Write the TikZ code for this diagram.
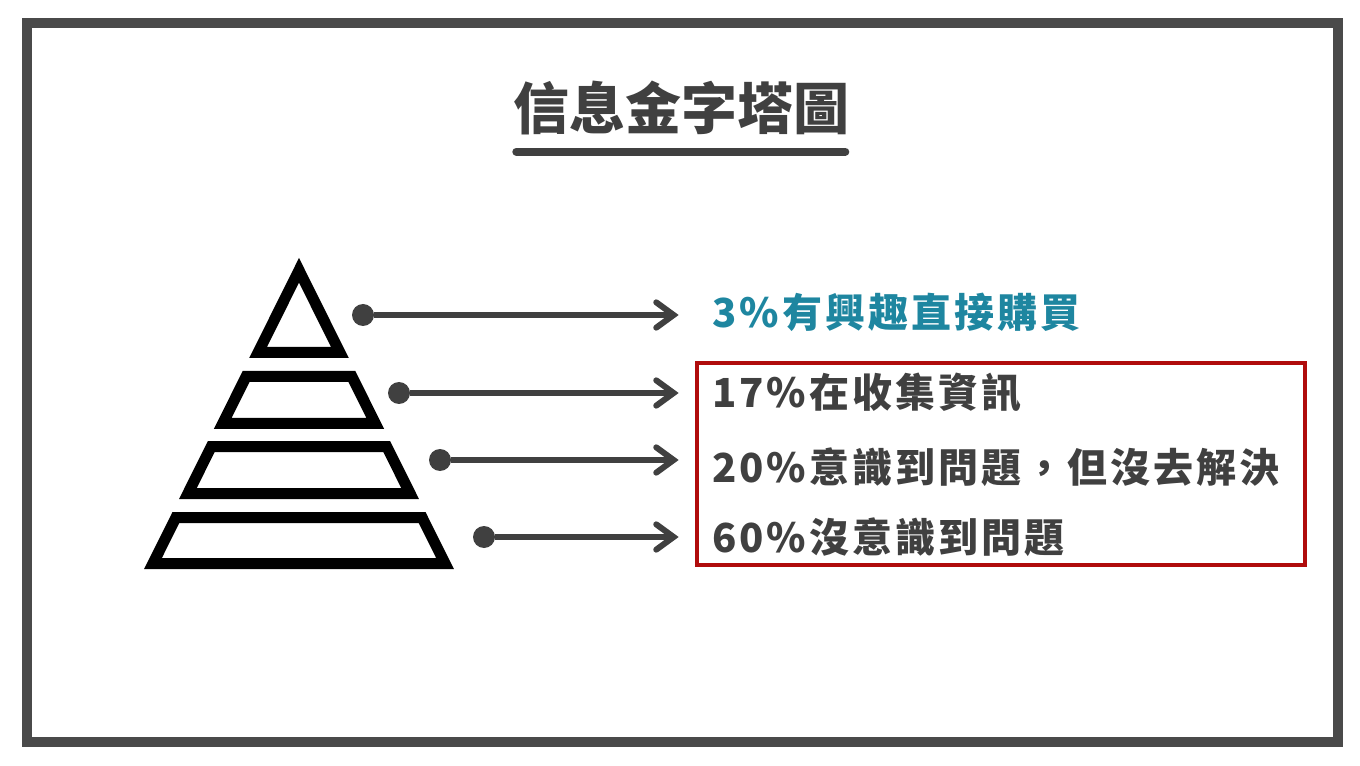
\documentclass[tikz,border=0pt]{standalone}
\usepackage{fontspec}
\setmainfont{Noto Sans CJK TC}
\newfontfamily\spacedfont{Noto Sans CJK TC}[LetterSpace=7.5]
\usetikzlibrary{arrows.meta, positioning}

\definecolor{darkgray}{HTML}{404040}
\definecolor{teal}{HTML}{1E86A0}
\definecolor{darkred}{HTML}{B00C0C}

\begin{document}
\begin{tikzpicture}[
    x=0.75pt, y=-0.75pt,
    frame/.style={draw=darkgray!95, line width=7.5pt},
    layer/.style={draw=black, line width=8.25pt, line join=miter},
    dot/.style={circle, fill=darkgray, minimum size=16.5pt, inner sep=0pt},
    label/.style={anchor=base west, inner sep=0pt, font=\spacedfont\fontsize{30pt}{36pt}\selectfont\bfseries, text=darkgray},
    arrow/.style={-{Straight Barb[length=13pt, width=19pt, line cap=round]}, line width=4.5pt, draw=darkgray, shorten >=25pt}
]
\useasboundingbox (0,0) rectangle (1360,766);

% Frame
\draw[frame] (27,23) rectangle (1338,742);

% Title
\node[font=\fontsize{42pt}{50pt}\selectfont\bfseries, text=darkgray] (title) at (681,108) {信息金字塔圖};
\draw[darkgray, line width=6pt, line cap=round] (title.south west) ++(8,12) -- ++(329,0);

% Pyramid
\draw[layer] (299,270.3) -- (339.9,352.5) -- (258.1,352.5) -- cycle;
\draw[layer] (246.1,376.5) -- (351.9,376.5) -- (375.3,423.5) -- (222.7,423.5) -- cycle;
\draw[layer] (211.3,446.5) -- (386.7,446.5) -- (410.1,493.5) -- (187.9,493.5) -- cycle;
\draw[layer] (175.9,517.5) -- (422.1,517.5) -- (445.0,563.5) -- (153.0,563.5) -- cycle;

% Dots
\node[dot] (d1) at (363,315) {};
\node[dot] (d2) at (399,393) {};
\node[dot] (d3) at (440,460) {};
\node[dot] (d4) at (484,537) {};

% Labels
\node[label, text=teal] (l1) at (712,328) {3\%有興趣直接購買};
\node[label] (l2) at (712,408) {17\%在收集資訊};
\node[label] (l3) at (712,482) {20\%意識到問題，但沒去解決};
\node[label] (l4) at (712,552) {60\%沒意識到問題};

% Red box
\draw[draw=darkred, line width=3pt] (697,363) rectangle (1305,565);

% Connections
\draw[arrow] (d1) -- (d1 -| l1.west);
\draw[arrow] (d2) -- (d2 -| l2.west);
\draw[arrow] (d3) -- (d3 -| l3.west);
\draw[arrow] (d4) -- (d4 -| l4.west);

\end{tikzpicture}
\end{document}
